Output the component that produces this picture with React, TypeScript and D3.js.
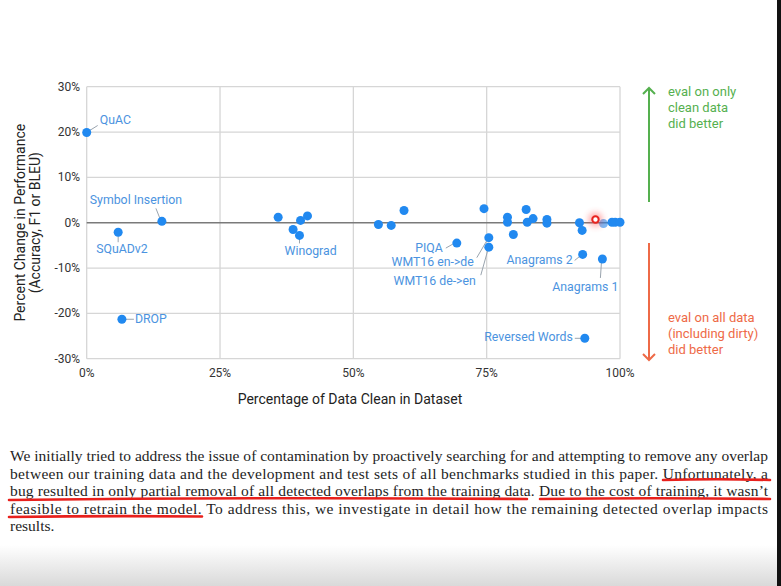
import React from "react";
import * as d3 from "d3";

// ---- data ----
const cleanPct = [0, 5.9, 6.6, 14.1, 35.9, 41.4, 40.1, 38.7, 39.9, 54.7, 57.1, 59.5, 69.4, 74.5, 75.4, 75.4, 78.9, 78.9, 80.0, 82.4, 82.6, 83.7, 86.3, 86.3, 92.4, 92.9, 96.9, 98.5, 99.1, 100, 93.0, 96.7, 93.4];
const perfChange = [19.9, -2.1, -21.3, 0.3, 1.2, 1.5, 0.5, -1.5, -2.8, -0.4, -0.6, 2.7, -4.5, 3.1, -3.3, -5.4, 1.2, 0.1, -2.6, 2.9, 0.1, 0.9, 0.7, -0.1, 0.0, -1.7, -0.2, 0.1, 0.1, 0.1, -7.0, -8.0, -25.5];
const pointNames = ["QuAC", "SQuADv2", "DROP", "Symbol Insertion", "", "", "", "", "Winograd", "", "", "", "PIQA", "", "WMT16 en->de", "WMT16 de->en", "", "", "", "", "", "", "", "", "", "", "", "", "", "", "Anagrams 2", "Anagrams 1", "Reversed Words"];
const highlightPoint = [95.4, 0.7];
const xTicks = [0, 25, 50, 75, 100];
const yTicks = [-30, -20, -10, 0, 10, 20, 30];
const xTitle = "Percentage of Data Clean in Dataset";
const yTitle = ["Percent Change in Performance", "(Accuracy, F1 or BLEU)"];
const upNote = ["eval on only", "clean data", "did better"];
const downNote = ["eval on all data", "(including dirty)", "did better"];
const paragraph = [
  "We initially tried to address the issue of contamination by proactively searching for and attempting to remove any overlap",
  "between our training data and the development and test sets of all benchmarks studied in this paper. Unfortunately, a",
  "bug resulted in only partial removal of all detected overlaps from the training data. Due to the cost of training, it wasn\u2019t",
  "feasible to retrain the model. To address this, we investigate in detail how the remaining detected overlap impacts",
  "results.",
];

// ---- layout for labels: [dx, dy, anchor, lx1, ly1, lx2, ly2] relative to point ----
const labelLayout: Record<string, [number, number, string, number, number, number, number]> = {
  "QuAC": [13, -8.5, "start", 3, -2, 11, -7],
  "SQuADv2": [-22, 21, "start", 0, 4, 0, 10],
  "DROP": [13, 4, "start", 4, 0, 12, 0],
  "Symbol Insertion": [-26, -17, "middle", -2, -3, -6, -13],
  "Winograd": [-15, 20, "start", 0, 3, 0, 8],
  "PIQA": [-14, 9, "end", -4, 1, -11, 5],
  "WMT16 en->de": [-15, 28.7, "end", -2, 3, -12, 20],
  "WMT16 de->en": [-13, 37.5, "end", -1, 3, -8, 28],
  "Anagrams 2": [-10, 10, "end", -3, 2, -8, 6],
  "Anagrams 1": [16, 32, "end", -1, 4, -2, 19],
  "Reversed Words": [-12, 3, "end", -4, 0, -10, 0],
};

export default function App() {
  const x = d3.scaleLinear().domain([0, 100]).range([86.7, 620]);
  const y = d3.scaleLinear().domain([-30, 30]).range([358.7, 86.7]);
  const font = "Roboto, 'Noto Sans', sans-serif";
  const labelColor = "#4b93e0";
  const dotColor = "#2189f0";
  const green = "#55b04f";
  const red = "#ee6a47";
  const arrowX = 649;

  return (
    <svg width={781} height={586} style={{ position: "absolute", left: 0, top: 0 }}>
      <defs>
        <linearGradient id="bottomFade" x1="0" y1="0" x2="0" y2="1">
          <stop offset="0" stopColor="#ffffff" />
          <stop offset="1" stopColor="#d9d9d9" />
        </linearGradient>
        <filter id="blur" x="-1" y="-1" width="3" height="3">
          <feGaussianBlur stdDeviation="3" />
        </filter>
      </defs>
      <rect x={0} y={0} width={781} height={586} fill="#fff" />
      <rect x={0} y={545} width={781} height={41} fill="url(#bottomFade)" />

      {/* grid */}
      {xTicks.map((t) => (
        <line key={"gx" + t} x1={x(t)} x2={x(t)} y1={y(30)} y2={y(-30)} stroke="#d6d6d6" strokeWidth={1.3} />
      ))}
      {yTicks.map((t) => (
        <line key={"gy" + t} x1={x(0)} x2={x(100)} y1={y(t)} y2={y(t)}
          stroke={t === 0 ? "#7a7a7a" : "#d6d6d6"} strokeWidth={t === 0 ? 1.6 : 1.3} />
      ))}

      {/* tick labels */}
      {yTicks.map((t) => (
        <text key={"ty" + t} x={80} y={y(t) + 4} textAnchor="end" fontFamily={font} fontSize={12} fill="#333">
          {t + "%"}
        </text>
      ))}
      {xTicks.map((t) => (
        <text key={"tx" + t} x={x(t)} y={377} textAnchor="middle" fontFamily={font} fontSize={12} fill="#333">
          {t + "%"}
        </text>
      ))}

      {/* axis titles */}
      <text x={350} y={404} textAnchor="middle" fontFamily={font} fontSize={14} fill="#222">{xTitle}</text>
      {yTitle.map((s, i) => (
        <text key={"yt" + i} transform={`translate(${25 + i * 15},${y(0)}) rotate(-90)`} textAnchor="middle"
          fontFamily={font} fontSize={14} fill="#222">{s}</text>
      ))}

      {/* leader lines and labels */}
      {pointNames.map((n, i) => {
        if (!n || !labelLayout[n]) return null;
        const [dx, dy, anchor, lx1, ly1, lx2, ly2] = labelLayout[n];
        const px = x(cleanPct[i]);
        const py = y(perfChange[i]);
        return (
          <g key={"lab" + i}>
            <line x1={px + lx1} y1={py + ly1} x2={px + lx2} y2={py + ly2} stroke="#9aa4ae" strokeWidth={1} />
            <text x={px + dx} y={py + dy} textAnchor={anchor} fontFamily={font} fontSize={12.3} fill={labelColor}>{n}</text>
          </g>
        );
      })}

      {/* points */}
      {cleanPct.map((c, i) => (
        <circle key={"p" + i} cx={x(c)} cy={y(perfChange[i])} r={4.5} fill={dotColor}
          opacity={i === 26 ? 0.6 : 1} />
      ))}

      {/* highlighted point */}
      <circle cx={x(highlightPoint[0])} cy={y(highlightPoint[1])} r={7} fill="#ff4040" opacity={0.45} filter="url(#blur)" />
      <circle cx={x(highlightPoint[0])} cy={y(highlightPoint[1])} r={3.2} fill="#fff" stroke="#e8231f" strokeWidth={2} />

      {/* annotation arrows */}
      <line x1={arrowX} x2={arrowX} y1={88} y2={202} stroke={green} strokeWidth={2} />
      <polyline points={`${arrowX - 6},${94} ${arrowX},${88} ${arrowX + 6},${94}`} fill="none" stroke={green} strokeWidth={2} />
      {upNote.map((s, i) => (
        <text key={"u" + i} x={668} y={96 + i * 16} fontFamily={font} fontSize={13} fill={green}>{s}</text>
      ))}
      <line x1={arrowX} x2={arrowX} y1={243} y2={360} stroke={red} strokeWidth={2} />
      <polyline points={`${arrowX - 6},${354} ${arrowX},${360} ${arrowX + 6},${354}`} fill="none" stroke={red} strokeWidth={2} />
      {downNote.map((s, i) => (
        <text key={"d" + i} x={668} y={322 + i * 16} fontFamily={font} fontSize={13} fill={red}>{s}</text>
      ))}

      {/* paragraph */}
      {paragraph.map((s, i) => (
        <text key={"para" + i} x={10} y={461 + i * 17.5} fontFamily="'Liberation Serif', 'DejaVu Serif', serif"
          fontSize={15.5} fill="#1e1e1e"
          {...(i < paragraph.length - 1 ? { textLength: 758, lengthAdjust: "spacing" } : {})}>{s}</text>
      ))}

      {/* red underlines */}
      <g stroke="#e8201c" strokeWidth={2.6} fill="none" strokeLinecap="round">
        <path d="M663,480 Q716,478.5 770,480" />
        <path d="M9,500 Q270,497 527,499" />
        <path d="M540,499 Q655,497.5 770,499" />
        <path d="M9,517 Q105,515.5 202,516.5" />
      </g>

      {/* right edge dark strip */}
      <rect x={777} y={0} width={4} height={586} fill="#111" />
    </svg>
  );
}
